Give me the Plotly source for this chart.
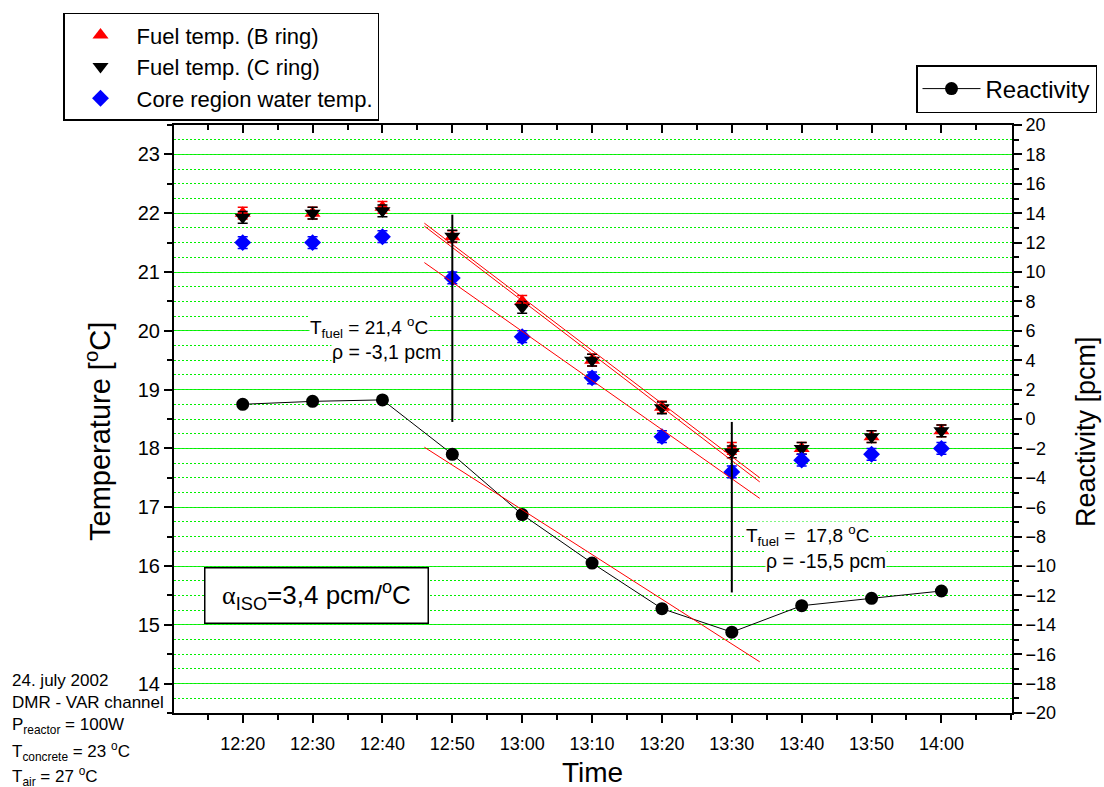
import plotly.graph_objects as go

# ---------------- data ----------------
times = ["12:20", "12:30", "12:40", "12:50", "13:00", "13:10",
         "13:20", "13:30", "13:40", "13:50", "14:00"]
fuel_B = [22.0, 22.0, 22.1, 21.6, 20.5, 19.5, 18.7, 18.0, 18.0, 18.2, 18.3]
fuel_C = [21.93, 22.0, 22.04, 21.61, 20.4, 19.5, 18.69, 17.94, 18.0, 18.2, 18.3]
water = [21.5, 21.5, 21.6, 20.9, 19.9, 19.2, 18.2, 17.6, 17.8, 17.9, 18.0]
reactivity = [1.0, 1.2, 1.3, -2.4, -6.5, -9.8, -12.9, -14.5, -12.7, -12.2, -11.7]
temp_err = 0.1

# linear fits drawn in the reference (end points)
fit_times = ["12:46", "13:34"]
fit_B = [21.83, 17.50]
fit_C = [21.78, 17.43]
fit_water = [21.16, 17.15]
fit_react = [-1.92, -16.52]

# vertical marker lines (reactivity scale)
vline_times = ["12:50", "13:30"]
vline_top = [13.9, -0.2]
vline_bottom = [-0.2, -11.8]

temp_ticks = list(range(14, 24))
react_ticks = list(range(-20, 21, 2))

DAY = "2002-07-24 "
def dt(t):
    return DAY + t + ":00"

tx = [dt(t) for t in times]
fx = [dt(t) for t in fit_times]

FONT = "Liberation Sans, Arial, sans-serif"
GREEN = "#1ef01e"
DOTGREEN = "#00f000"

# plot area in pixels
L, R, T, B = 174, 1012, 125, 713
W, H = 1104, 787
def px(x):
    return (x - L) / (R - L)
def py(y):
    return (B - y) / (B - T)

fig = go.Figure()

fig.add_trace(go.Scatter(
    x=tx, y=fuel_B, mode="markers", name="Fuel temp. (B ring)",
    marker=dict(symbol="triangle-up", size=14, color="red", line=dict(width=0)),
    error_y=dict(type="constant", value=temp_err, color="red", thickness=1.5, width=5),
    legend="legend"))
fig.add_trace(go.Scatter(
    x=tx, y=fuel_C, mode="markers", name="Fuel temp. (C ring)",
    marker=dict(symbol="triangle-down", size=14, color="black", line=dict(width=0)),
    error_y=dict(type="constant", value=temp_err, color="black", thickness=1.5, width=5),
    legend="legend"))
fig.add_trace(go.Scatter(
    x=tx, y=water, mode="markers", name="Core region water temp.",
    marker=dict(symbol="diamond", size=13, color="blue", line=dict(width=0)),
    error_y=dict(type="constant", value=temp_err, color="blue", thickness=1.5, width=5),
    legend="legend"))

fig.add_trace(go.Scatter(
    x=tx, y=reactivity, mode="lines+markers", name="Reactivity", yaxis="y2",
    line=dict(color="black", width=1),
    marker=dict(symbol="circle", size=13, color="black"),
    legend="legend2"))

# fit lines
for fy in (fit_B, fit_C, fit_water):
    fig.add_trace(go.Scatter(x=fx, y=fy, mode="lines", showlegend=False,
                             line=dict(color="red", width=1), hoverinfo="skip"))
fig.add_trace(go.Scatter(x=fx, y=fit_react, mode="lines", yaxis="y2", showlegend=False,
                         line=dict(color="red", width=1), hoverinfo="skip"))

# vertical lines
for t, a, b in zip(vline_times, vline_top, vline_bottom):
    fig.add_trace(go.Scatter(x=[dt(t), dt(t)], y=[a, b], mode="lines", yaxis="y2",
                             showlegend=False, line=dict(color="black", width=2),
                             hoverinfo="skip"))

# invisible trace to activate the top axis
fig.add_trace(go.Scatter(x=[tx[0]], y=[fuel_B[0]], xaxis="x2", mode="markers",
                         marker=dict(opacity=0), showlegend=False, hoverinfo="skip"))

xrange = [DAY + "12:10:10", DAY + "14:10:06"]

fig.update_layout(
    width=W, height=H,
    margin=dict(l=L, r=W - R, t=T, b=H - B, autoexpand=False),
    paper_bgcolor="white", plot_bgcolor="white",
    font=dict(family=FONT, color="black"),
    xaxis=dict(
        type="date", range=xrange,
        tickvals=tx, ticktext=times,
        ticks="outside", ticklen=8, tickwidth=1.5, tickcolor="black",
        minor=dict(dtick=300000, ticks="outside", ticklen=5, tickwidth=1.5, tickcolor="black"),
        showline=True, linewidth=2, linecolor="black",
        showgrid=False, zeroline=False, ticklabelstandoff=5,
        tickfont=dict(size=18),
    ),
    xaxis2=dict(
        type="date", range=xrange, overlaying="x", side="top",
        tickvals=tx, showticklabels=False,
        ticks="inside", ticklen=8, tickwidth=1.5, tickcolor="black",
        minor=dict(dtick=300000, ticks="inside", ticklen=5, tickwidth=1.5, tickcolor="black"),
        showline=True, linewidth=2, linecolor="black",
        showgrid=False, zeroline=False,
    ),
    yaxis=dict(
        range=[13.5, 23.5], tickvals=temp_ticks,
        ticks="outside", ticklen=8, tickwidth=1.5, tickcolor="black",
        minor=dict(dtick=0.5, tick0=0, ticks="outside", ticklen=5, tickwidth=1.5,
                   tickcolor="black", showgrid=False),
        showline=True, linewidth=2, linecolor="black",
        showgrid=True, gridcolor=GREEN, gridwidth=1.3,
        zeroline=False, tickfont=dict(size=20),
    ),
    yaxis2=dict(
        range=[-20, 20], tickvals=react_ticks, overlaying="y", side="right",
        ticks="outside", ticklen=8, tickwidth=1.5, tickcolor="black",
        minor=dict(dtick=1, tick0=0, ticks="outside", ticklen=5, tickwidth=1.5,
                   tickcolor="black", showgrid=True, gridcolor=DOTGREEN, gridwidth=1.2,
                   griddash="2px,2px"),
        showline=True, linewidth=2, linecolor="black",
        showgrid=True, gridcolor=DOTGREEN, gridwidth=1.2, griddash="2px,2px",
        zeroline=False, tickfont=dict(size=18),
    ),
    legend=dict(
        x=px(63), y=py(12.7), xanchor="left", yanchor="top",
        bgcolor="white", bordercolor="black", borderwidth=1.5,
        font=dict(size=22, family=FONT), itemsizing="trace", itemwidth=62,
    ),
    legend2=dict(
        x=px(916), y=py(65), xanchor="left", yanchor="top",
        bgcolor="white", bordercolor="black", borderwidth=1.5,
        font=dict(size=24, family=FONT), itemwidth=58,
    ),
    showlegend=True,
)

ann = []
# axis titles
ann.append(dict(text="Temperature [<sup>o</sup>C]", x=px(98), y=py(432), xref="paper", yref="paper",
                textangle=-90, showarrow=False, font=dict(size=29), xanchor="center", yanchor="middle"))
ann.append(dict(text="Reactivity [pcm]", x=px(1086), y=py(432), xref="paper", yref="paper",
                textangle=-90, showarrow=False, font=dict(size=27), xanchor="center", yanchor="middle"))
ann.append(dict(text="Time", x=px(592), y=py(772), xref="paper", yref="paper",
                showarrow=False, font=dict(size=28), xanchor="center", yanchor="middle"))

# in-plot texts
def txt(s, x, y, size=19, **kw):
    d = dict(text=s, x=px(x), y=py(y), xref="paper", yref="paper", showarrow=False,
             font=dict(size=size), xanchor="left", yanchor="middle", borderpad=0)
    d.update(kw)
    return d

ann.append(txt("T<sub>fuel</sub> = 21,4 <sup>o</sup>C", 309, 327, bgcolor="white"))
ann.append(txt("\u03c1 = -3,1 pcm", 331, 352, size=19.5, bgcolor="white"))
ann.append(txt("T<sub>fuel</sub> =\u00a0 17,8 <sup>o</sup>C", 745, 535, bgcolor="white"))
ann.append(txt("\u03c1 = -15,5 pcm", 765, 561, size=19.5, bgcolor="white"))

ann.append(dict(text="<span style='font-family:Liberation Serif'>\u03b1</span><sub>ISO</sub>=3,4 pcm/<sup>o</sup>C",
                x=px(316), y=py(595), xref="paper", yref="paper", showarrow=False,
                font=dict(size=26), xanchor="center", yanchor="middle",
                bgcolor="white", bordercolor="black", borderwidth=1.5, borderpad=1,
                width=220, height=52, align="center", valign="middle"))

# bottom-left notes
notes = ["24. july 2002", "DMR - VAR channel", "P<sub>reactor</sub> = 100W",
         "T<sub>concrete</sub> = 23 <sup>o</sup>C", "T<sub>air</sub> = 27 <sup>o</sup>C"]
note_y = [680, 702, 726, 751, 777]
for s, y in zip(notes, note_y):
    ann.append(txt(s, 11, y, size=17))

fig.update_layout(annotations=ann)

fig.write_html("out.html", config={"displayModeBar": False},
               post_script="document.body.style.margin='0';document.body.style.overflow='hidden';")
